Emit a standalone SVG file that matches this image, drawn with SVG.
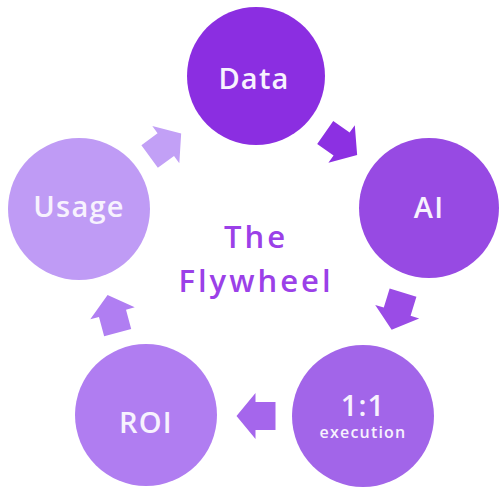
<svg xmlns="http://www.w3.org/2000/svg" width="501" height="490" viewBox="0 0 501 490">
<defs>
<style>
.lbl{font-family:"Open Sans","Liberation Sans",sans-serif;font-weight:600;fill:#f7f2fe;text-anchor:middle}
.big{font-size:29px;letter-spacing:1.2px}
.small{font-size:16px;letter-spacing:1.2px}
.title{font-family:"Open Sans","Liberation Sans",sans-serif;font-weight:600;font-size:31px;fill:#9b40e8;text-anchor:middle;letter-spacing:3px}
</style>
<polygon id="arr" points="-20,-14 0,-14 0,-23 19,0 0,23 0,14 -20,14"/>
</defs>
<rect width="501" height="490" fill="#ffffff"/>
<g id="connectors">
<use href="#arr" transform="translate(341.6,144) rotate(35)" fill="#8c30e2"/>
<use href="#arr" transform="translate(397.2,311.7) rotate(107)" fill="#9a4ce6"/>
<use href="#arr" transform="translate(255.5,416) rotate(180)" fill="#a566ec"/>
<use href="#arr" transform="translate(112.5,313.3) rotate(-105)" fill="#b07ef2"/>
<use href="#arr" transform="translate(165.8,144.7) rotate(-36)" fill="#c2a0f6"/>
</g>
<g id="node-data">
<circle cx="256" cy="76" r="69" fill="#8b2ee1"/>
<text class="lbl big" x="254" y="89">Data</text>
</g>
<g id="node-ai">
<circle cx="429" cy="208" r="70" fill="#974ae3"/>
<text class="lbl big" x="429" y="218">AI</text>
</g>
<g id="node-execution">
<circle cx="363" cy="416" r="71" fill="#a265e9"/>
<text class="lbl big" x="363" y="416">1:1</text>
<text class="lbl small" x="363" y="438">execution</text>
</g>
<g id="node-roi">
<circle cx="146" cy="415" r="71" fill="#b07df1"/>
<text class="lbl big" x="146" y="433">ROI</text>
</g>
<g id="node-usage">
<circle cx="79" cy="209" r="71" fill="#bf9bf5"/>
<text class="lbl big" x="79" y="217">Usage</text>
</g>
<g id="title">
<text class="title" x="256" y="248">The</text>
<text class="title" x="256" y="292">Flywheel</text>
</g>
</svg>
